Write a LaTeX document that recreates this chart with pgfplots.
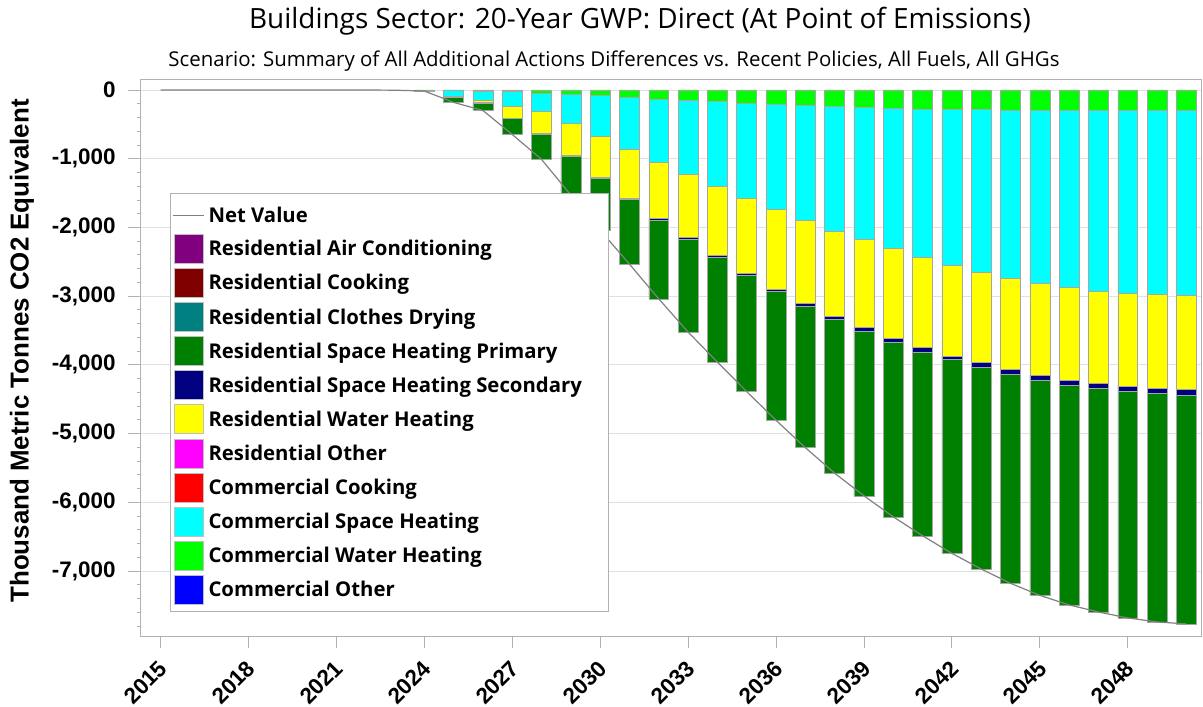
\documentclass[border=0pt]{standalone}
\usepackage{fontspec}
\usepackage{pgfplots}
\usepackage{pgfplotstable}
\pgfplotsset{compat=1.18}
\setmainfont{Liberation Sans}
\newfontfamily\seg{Open Sans}

\definecolor{cPurple}{HTML}{800080}
\definecolor{cMaroon}{HTML}{800000}
\definecolor{cTeal}{HTML}{008080}
\definecolor{cGreen}{HTML}{008000}
\definecolor{cNavy}{HTML}{000080}
\definecolor{cYellow}{HTML}{FFFF00}
\definecolor{cMagenta}{HTML}{FF00FF}
\definecolor{cRed}{HTML}{FF0000}
\definecolor{cCyan}{HTML}{00FFFF}
\definecolor{cLime}{HTML}{00FF00}
\definecolor{cBlue}{HTML}{0000FF}
\definecolor{cLine}{HTML}{808080}

\pgfplotstableread{
year cwh csh rwh rshs rshp
2024 -12 -3 0 0 0
2025 -10 -80 -5 -5 -80
2026 -15 -128 -39 -5 -111
2027 -20 -220 -164 -6 -237
2028 -45 -267 -324 -9 -365
2029 -65 -425 -460 -15 -565
2030 -75 -595 -597 -20 -753
2031 -104 -761 -707 -23 -940
2032 -128 -921 -823 -26 -1142
2033 -143 -1085 -915 -34 -1346
2034 -167 -1231 -1007 -35 -1520
2035 -186 -1386 -1090 -35 -1693
2036 -206 -1530 -1158 -38 -1875
2037 -225 -1671 -1201 -49 -2059
2038 -235 -1816 -1240 -48 -2238
2039 -250 -1922 -1283 -54 -2397
2040 -269 -2039 -1298 -67 -2539
2041 -279 -2150 -1322 -63 -2674
2042 -283 -2262 -1323 -53 -2823
2043 -283 -2369 -1312 -73 -2935
2044 -288 -2451 -1327 -72 -3042
2045 -293 -2519 -1336 -73 -3134
2046 -293 -2581 -1347 -77 -3197
2047 -293 -2630 -1341 -83 -3250
2048 -293 -2668 -1347 -77 -3299
2049 -293 -2683 -1366 -78 -3322
2050 -293 -2697 -1367 -86 -3328
}\bars

\pgfplotstableread{
year net
2015 0
2016 0
2017 0
2018 0
2019 0
2020 0
2021 0
2022 0
2023 -3
2024 -15
2025 -180
2026 -298
2027 -647
2028 -1010
2029 -1530
2030 -2040
2031 -2535
2032 -3040
2033 -3523
2034 -3960
2035 -4390
2036 -4807
2037 -5205
2038 -5577
2039 -5906
2040 -6212
2041 -6488
2042 -6744
2043 -6972
2044 -7180
2045 -7355
2046 -7495
2047 -7597
2048 -7684
2049 -7742
2050 -7771
}\netdata

\pgfplotsset{
  common/.style={
    at={(140bp,-636bp)}, anchor=south west,
    scale only axis, width=1061bp, height=557bp,
    xmin=2014.3, xmax=2050.5, ymin=-7947, ymax=160,
  },
  sq legend/.style={legend image code/.code={\draw[##1] (0bp,-14.5bp) rectangle (29bp,14.5bp);}},
  ln legend/.style={legend image code/.code={\path[draw=none, fill=none] (0bp,-14.5bp) rectangle (29bp,14.5bp);\draw[##1] (-1bp,0bp) -- (30bp,0bp);}},
}

\begin{document}
\begin{tikzpicture}
\path[use as bounding box] (0,0) rectangle (1203bp,-707bp);

\node at (640bp,-21bp) {\seg\fontsize{28}{32}\selectfont Buildings Sector: 20-Year GWP: Direct (At Point of Emissions)};
\node at (614bp,-61bp) {\seg\fontsize{20.5}{23}\selectfont Scenario: Summary of All Additional Actions Differences vs. Recent Policies, All Fuels, All GHGs};
\node[rotate=90] at (22bp,-351bp) {\bfseries\fontsize{26}{30}\selectfont Thousand Metric Tonnes CO2 Equivalent};

\begin{axis}[common,
  ybar stacked, bar width=0.68,
  ytick={-7000,-6000,...,0},
  minor ytick={-7800,-7600,...,0},
  xtick={2015,2018,...,2048},
  ymajorgrids, grid style={draw=black!12, line width=0.8bp},
  axis line style={draw=black!30, line width=1bp},
  tick style={draw=black!30, line width=0.8bp},
  tick align=outside, major tick length=12bp, minor tick length=3bp,
  xtick pos=bottom, ytick pos=left,
  /pgf/number format/assume math mode=true,
  ticklabel style={font=\bfseries\fontsize{22.5}{24}\selectfont},
  yticklabel style={/pgf/number format/.cd, 1000 sep={,}, /tikz/.cd, xshift=-9bp},
  xticklabel style={/pgf/number format/.cd, 1000 sep={}, /tikz/.cd, xshift=-3bp, yshift=-11bp, rotate=45, anchor=north east, inner sep=0pt},
]
\addplot[fill=cLime, draw=black!35, line width=0.5bp] table[x=year, y=cwh] {\bars};
\addplot[fill=cCyan, draw=black!35, line width=0.5bp] table[x=year, y=csh] {\bars};
\addplot[fill=cYellow, draw=black!35, line width=0.5bp] table[x=year, y=rwh] {\bars};
\addplot[fill=cNavy, draw=black!35, line width=0.5bp] table[x=year, y=rshs] {\bars};
\addplot[fill=cGreen, draw=black!35, line width=0.5bp] table[x=year, y=rshp] {\bars};
\end{axis}

\begin{axis}[common, hide axis,
  legend cell align=left,
  legend style={at={(0.0283,0.795)}, anchor=north west,
    draw=black!30, line width=1bp, fill=white, inner xsep=2bp, inner ysep=7bp,
    row sep=4.3bp, /tikz/column sep=1.6bp,
    nodes={inner sep=2.2bp},
    font=\seg\bfseries\fontsize{20.4}{22}\selectfont},
]
\addplot[cLine, line width=1.2bp, ln legend] table[x=year, y=net] {\netdata};
\addlegendentry{Net Value}
\addlegendimage{sq legend, fill=cPurple, draw=black!25, line width=0.8bp}
\addlegendentry{Residential Air Conditioning}
\addlegendimage{sq legend, fill=cMaroon, draw=black!25, line width=0.8bp}
\addlegendentry{Residential Cooking}
\addlegendimage{sq legend, fill=cTeal, draw=black!25, line width=0.8bp}
\addlegendentry{Residential Clothes Drying}
\addlegendimage{sq legend, fill=cGreen, draw=black!25, line width=0.8bp}
\addlegendentry{Residential Space Heating Primary}
\addlegendimage{sq legend, fill=cNavy, draw=black!25, line width=0.8bp}
\addlegendentry{Residential Space Heating Secondary\hspace*{22bp}}
\addlegendimage{sq legend, fill=cYellow, draw=black!25, line width=0.8bp}
\addlegendentry{Residential Water Heating}
\addlegendimage{sq legend, fill=cMagenta, draw=black!25, line width=0.8bp}
\addlegendentry{Residential Other}
\addlegendimage{sq legend, fill=cRed, draw=black!25, line width=0.8bp}
\addlegendentry{Commercial Cooking}
\addlegendimage{sq legend, fill=cCyan, draw=black!25, line width=0.8bp}
\addlegendentry{Commercial Space Heating}
\addlegendimage{sq legend, fill=cLime, draw=black!25, line width=0.8bp}
\addlegendentry{Commercial Water Heating}
\addlegendimage{sq legend, fill=cBlue, draw=black!25, line width=0.8bp}
\addlegendentry{Commercial Other}
\end{axis}
\end{tikzpicture}
\end{document}
